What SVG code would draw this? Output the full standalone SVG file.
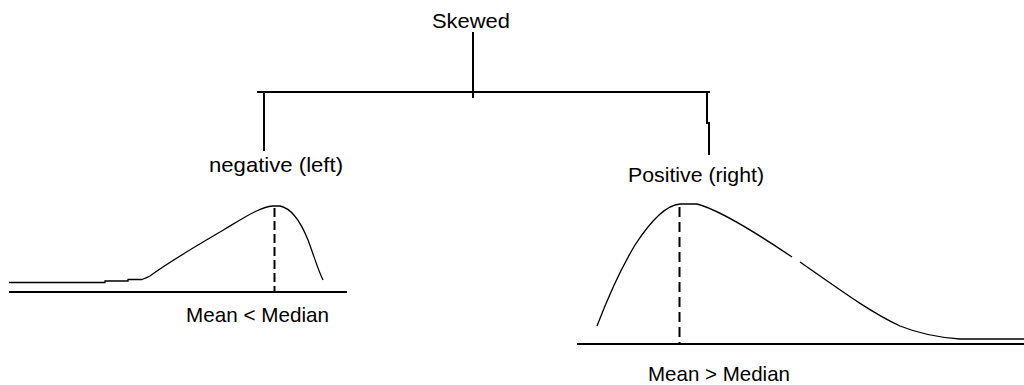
<svg xmlns="http://www.w3.org/2000/svg" width="1024" height="385" viewBox="0 0 1024 385">
<style>
text{font-family:"Liberation Sans",Arial,sans-serif;font-size:21px;fill:#000}
.ln{stroke:#000;stroke-width:2;fill:none}
.cv{stroke:#000;stroke-width:1.3;fill:none}
.ds{stroke:#000;stroke-width:2;fill:none;stroke-dasharray:9 4}
</style>
<rect width="1024" height="385" fill="#fff"/>
<g id="connectors">
<line class="ln" x1="473" y1="32" x2="473" y2="98"/>
<line class="ln" x1="257" y1="92" x2="710" y2="92"/>
<line class="ln" x1="264" y1="92" x2="264" y2="151"/>
<polyline class="ln" points="707,92 707,123 709,123 709,155"/>
</g>
<g id="skewed"><text x="432" y="28" textLength="78" lengthAdjust="spacingAndGlyphs">Skewed</text></g>
<g id="negative">
<text x="209" y="172" textLength="134" lengthAdjust="spacingAndGlyphs">negative (left)</text>
<line class="ln" x1="9" y1="292" x2="347" y2="292"/>
<path class="cv" d="M9,282.5 L105,282.5 L105,281 L128,281 L128,279.5 L142,279.5 Q146,278 150,276 C170,261 200,244 225,229 C245,217 260,207 273,206 L280,206 C290,208 300,220 308,240 C314,256 318,270 323,280"/>
<line class="ds" x1="274.5" y1="208" x2="274.5" y2="292"/>
<text x="186" y="322" textLength="143" lengthAdjust="spacingAndGlyphs">Mean &lt; Median</text>
</g>
<g id="positive">
<text x="628" y="182" textLength="136" lengthAdjust="spacingAndGlyphs">Positive (right)</text>
<line class="ln" x1="577" y1="344" x2="1024" y2="344"/>
<path class="cv" d="M597,326 C605,305 620,270 635,245 C650,222 665,205 680,204 L697,204 C720,210 755,232 792,257"/>
<path class="cv" d="M800,262 C840,290 870,312 900,326 C925,336 945,338 960,339 L1024,339"/>
<line class="ds" x1="679.5" y1="207" x2="679.5" y2="344" style="stroke-dasharray:10 5"/>
<text x="648" y="381" textLength="142" lengthAdjust="spacingAndGlyphs">Mean &gt; Median</text>
</g>
</svg>
